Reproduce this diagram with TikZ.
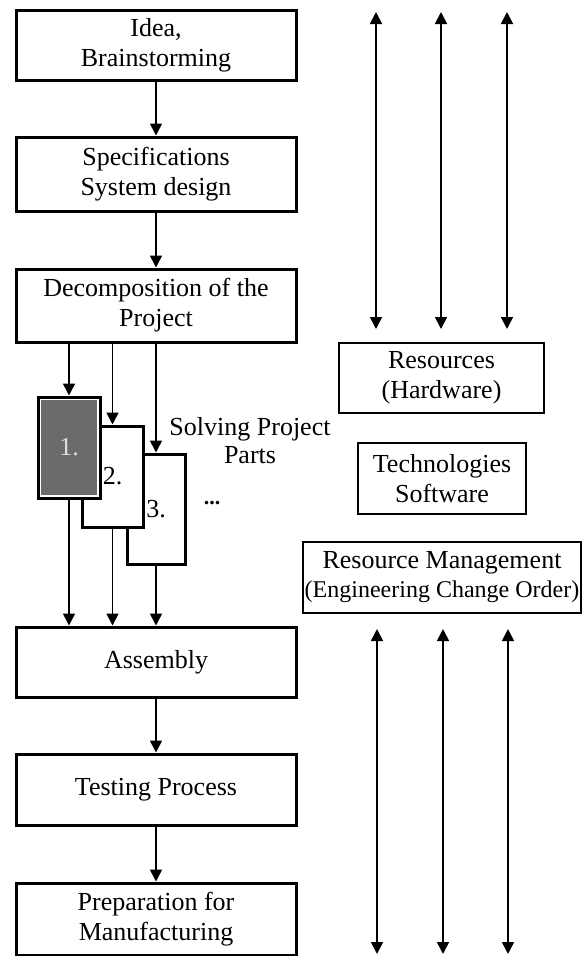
\documentclass[tikz,border=0pt]{standalone}
\usepackage{fontspec}
\setmainfont{Liberation Serif}
\usetikzlibrary{arrows.meta}
\tikzset{
  mainbox/.style={draw=black, line width=3pt, fill=white, minimum width=280pt, align=center, inner sep=0pt,
    font=\fontsize{26}{30}\selectfont},
  partbox/.style={draw=black, line width=3pt, fill=white, inner sep=0pt, font=\fontsize{26}{30}\selectfont},
  darkpart/.style={partbox, text=black!12,
    path picture={\fill[black!58] ([shift={(3.2pt,-3.2pt)}]path picture bounding box.north west)
      rectangle ([shift={(-3.2pt,3.2pt)}]path picture bounding box.south east);}},
  sidebox/.style={draw=black, line width=1.5pt, fill=white, align=center, inner sep=0pt,
    font=\fontsize{26}{30}\selectfont},
  plain/.style={align=center, inner sep=0pt, font=\fontsize{26}{28}\selectfont},
  arr/.style={line width=1.6pt, -{Triangle[width=12pt,length=12pt]}},
  darr/.style={line width=1.8pt, {Triangle[width=12pt,length=12pt]}-{Triangle[width=12pt,length=12pt]}}
}
\begin{document}
\begin{tikzpicture}[x=1pt,y=-1pt]
\useasboundingbox (0,0) rectangle (582,956);
% main column
\node[mainbox, minimum height=70pt] (idea) at (156,45) {Idea,\\Brainstorming};
\node[mainbox, minimum height=74pt] (spec) at (156,174) {Specifications\\System design};
\node[mainbox, minimum height=73pt] (decomp) at (156,305.5) {Decomposition of the\\Project};
\node[mainbox, minimum height=70pt] (asm) at (156,662) {Assembly};
\node[mainbox, minimum height=71pt] (test) at (156,789.5) {Testing Process};
\node[mainbox, minimum height=72pt] (prep) at (156,919) {Preparation for\\Manufacturing};
% project parts (back to front)
\node[partbox, minimum width=58pt, minimum height=110pt] (p3) at (156,509) {3.};
\node[partbox, minimum width=61pt, minimum height=101pt] (p2) at (112.5,476.5) {2.};
\node[darkpart, minimum width=62pt, minimum height=101pt] (p1) at (69,447.5) {1.};
\node[plain] (solving) at (250,441) {Solving Project\\Parts};
\node[plain, font=\fontsize{22}{24}\selectfont\bfseries] (dots) at (212,503) {...};
% arrows main
\draw[arr] (idea.south) -- (spec.north);
\draw[arr] (spec.south) -- (decomp.north);
\draw[arr] (p1.north |- decomp.south) -- (p1.north);
\draw[arr] (p2.north |- decomp.south) -- (p2.north);
\draw[arr] (p3.north |- decomp.south) -- (p3.north);
\draw[arr] (p1.south) -- (p1.south |- asm.north);
\draw[arr] (p2.south) -- (p2.south |- asm.north);
\draw[arr] (p3.south) -- (p3.south |- asm.north);
\draw[arr] (asm.south) -- (test.north);
\draw[arr] (test.south) -- (prep.north);
% right side boxes
\node[sidebox, minimum width=205pt, minimum height=70pt] (res) at (441.5,378) {Resources\\(Hardware)};
\node[sidebox, minimum width=168pt, minimum height=71pt] (tech) at (442,478.5) {Technologies\\Software};
\node[sidebox, minimum width=278pt, minimum height=71pt, font=\fontsize{24}{29}\selectfont] (mgmt) at (442,577.5)
  {{\fontsize{26}{29}\selectfont Resource Management}\\(Engineering Change Order)};
% double arrows
\coordinate (a1t) at (376,12); \coordinate (a1b) at (376,329);
\coordinate (a2t) at (441,12); \coordinate (a2b) at (441,329);
\coordinate (a3t) at (507,12); \coordinate (a3b) at (507,329);
\coordinate (b1t) at (377,629); \coordinate (b1b) at (377,954);
\coordinate (b2t) at (443,629); \coordinate (b2b) at (443,954);
\coordinate (b3t) at (508,629); \coordinate (b3b) at (508,954);
\draw[darr] (a1t) -- (a1b);
\draw[darr] (a2t) -- (a2b);
\draw[darr] (a3t) -- (a3b);
\draw[darr] (b1t) -- (b1b);
\draw[darr] (b2t) -- (b2b);
\draw[darr] (b3t) -- (b3b);
\end{tikzpicture}
\end{document}
